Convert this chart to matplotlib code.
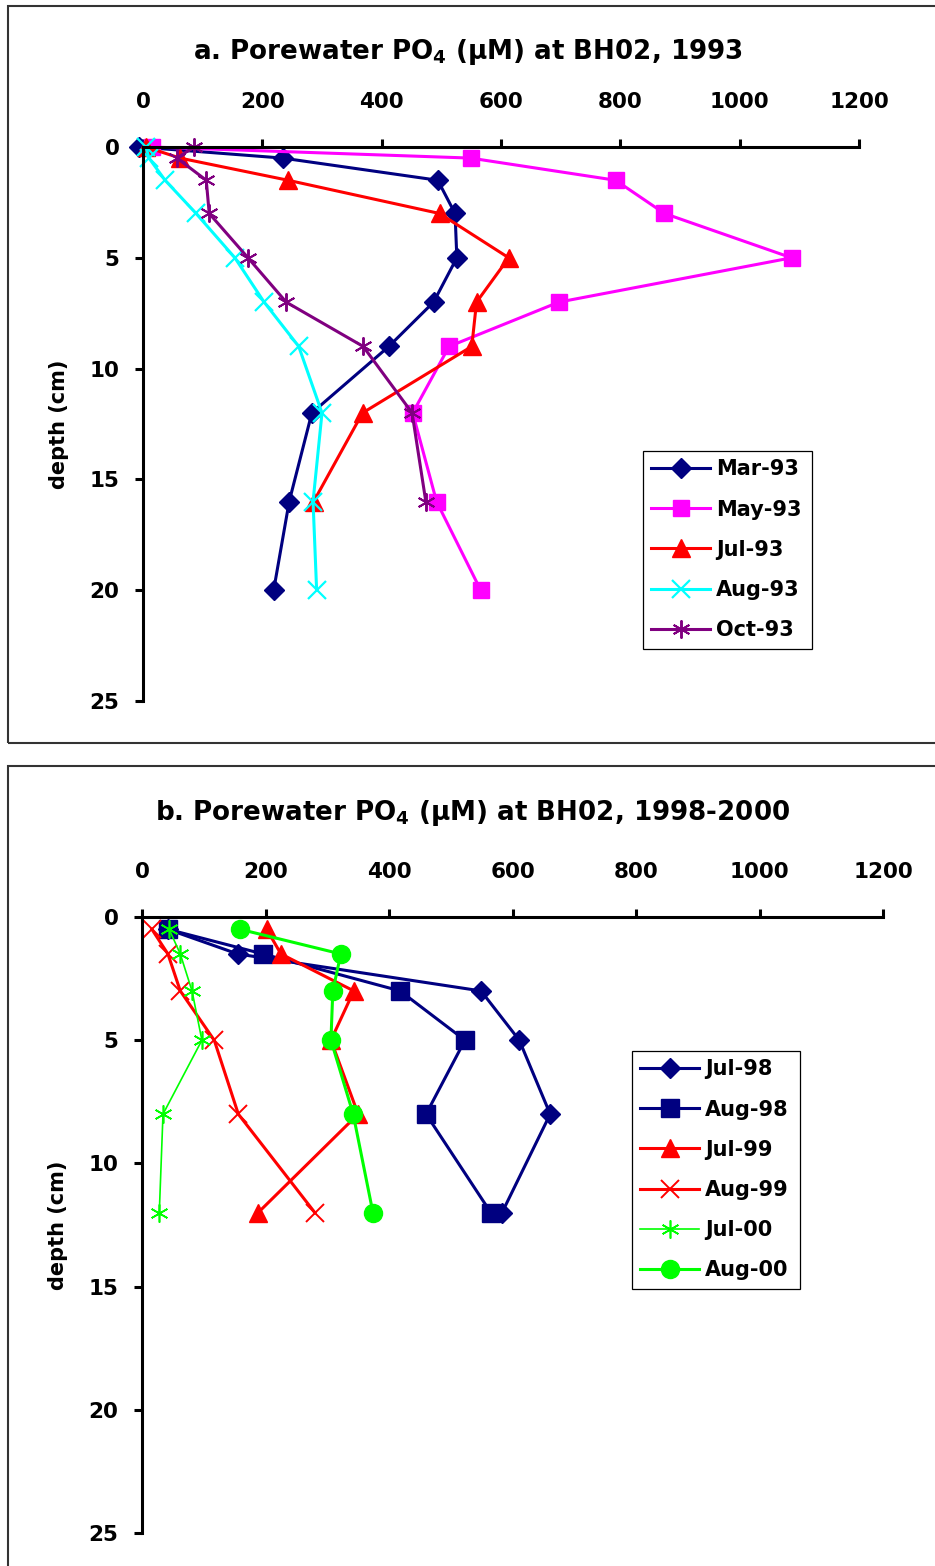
import matplotlib
matplotlib.use('Agg')
import matplotlib.pyplot as plt
from matplotlib.patches import Rectangle

plt.rcParams['font.family'] = ['DejaVu Sans']
plt.rcParams['font.weight'] = 'bold'
plt.rcParams['mathtext.fontset'] = 'custom'
plt.rcParams['mathtext.rm'] = 'DejaVu Sans:bold'
plt.rcParams['mathtext.bf'] = 'DejaVu Sans:bold'
plt.rcParams['mathtext.default'] = 'rm'

# ---- panel a: 1993 ----
depth_a = [0, 0.5, 1.5, 3, 5, 7, 9, 12, 16, 20]
mar93 = [-6, 234, 494, 523, 526, 487, 412, 283, 245, 219]
may93 = [15, 549, 792, 874, 1087, 697, 513, 452, 492, 566]
jul93 = [5, 62, 243, 497, 613, 559, 551, 368, 286]
aug93 = [5, 10, 37, 89, 154, 203, 261, 300, 285, 291]
oct93 = [85, 57, 106, 111, 176, 240, 369, 451, 474]
labels_a = ['Mar-93', 'May-93', 'Jul-93', 'Aug-93', 'Oct-93']

# ---- panel b: 1998-2000 ----
depth_b = [0.5, 1.5, 3, 5, 8, 12]
jul98 = [42, 155, 549, 611, 661, 583]
aug98 = [42, 196, 418, 523, 460, 565]
jul99 = [202, 225, 343, 306, 350, 188]
aug99 = [16, 42, 62, 117, 156, 280]
jul00 = [44, 62, 81, 97, 34, 28]
aug00 = [159, 322, 309, 306, 342, 374]
labels_b = ['Jul-98', 'Aug-98', 'Jul-99', 'Aug-99', 'Jul-00', 'Aug-00']

xticks = [0, 200, 400, 600, 800, 1000, 1200]
yticks = [0, 5, 10, 15, 20, 25]

W, H = 935, 1566
fig = plt.figure(figsize=(W / 100, H / 100), dpi=100)

# outer frames
fig.patches.append(Rectangle((8 / W, 1 - 743 / H), 1.0, (743 - 6) / H, transform=fig.transFigure,
                             fill=False, edgecolor='#333333', linewidth=1.5))
fig.patches.append(Rectangle((8 / W, -0.01), 1.0, 1 - 766 / H + 0.01, transform=fig.transFigure,
                             fill=False, edgecolor='#333333', linewidth=1.5))


def style_axes(ax):
    ax.set_xlim(0, 1200)
    ax.set_ylim(25, 0)
    ax.xaxis.tick_top()
    ax.spines['right'].set_visible(False)
    ax.spines['bottom'].set_visible(False)
    ax.spines['top'].set_linewidth(2.2)
    ax.spines['left'].set_linewidth(2.2)
    ax.set_xticks(xticks)
    ax.set_yticks(yticks)
    ax.tick_params(axis='both', direction='out', length=6, width=2.2, labelsize=15.5)
    ax.tick_params(axis='x', pad=19)
    ax.tick_params(axis='y', pad=11)
    for lab in ax.get_xticklabels() + ax.get_yticklabels():
        lab.set_fontweight('bold')
    ax.set_ylabel('depth (cm)', fontsize=15, fontweight='bold', labelpad=15)
    ax.patch.set_visible(False)


def legend(ax, x0, y0, x1, y1):
    lg = ax.legend(loc='upper left', bbox_to_anchor=(x0 / W, 1 - y1 / H, (x1 - x0) / W, (y1 - y0) / H),
                   bbox_transform=fig.transFigure, mode='expand', fancybox=False, framealpha=1,
                   edgecolor='black', fontsize=15, handlelength=2.8, labelspacing=0.97,
                   borderpad=0.4, handletextpad=0.3, borderaxespad=0)
    lg.get_frame().set_linewidth(0.9)
    for t in lg.get_texts():
        t.set_fontweight('bold')


# panel a
ax1 = fig.add_axes([143 / W, 1 - 701 / H, (859 - 143) / W, (701 - 147) / H])
style_axes(ax1)
ax1.plot(mar93, depth_a, color='#000080', marker='D', markersize=10, lw=2.2, label=labels_a[0], clip_on=False)
ax1.plot(may93, depth_a, color='#FF00FF', marker='s', markersize=12, lw=2.2, label=labels_a[1], clip_on=False)
ax1.plot(jul93, depth_a[:9], color='#FF0000', marker='^', markersize=13, lw=2.2, label=labels_a[2], clip_on=False)
ax1.plot(aug93, depth_a, color='#00FFFF', marker='x', markersize=13, mew=1.6, lw=2.2, label=labels_a[3], clip_on=False)
ax1.plot(oct93, depth_a[:9], color='#800080', marker=(6, 2, 0), markersize=13, mew=1.4, lw=2.2, label=labels_a[4], clip_on=False)
legend(ax1, 643, 451, 812, 646)
fig.text(468 / W, 1 - 52 / H, 'a. Porewater PO$_4$ (µM) at BH02, 1993', ha='center', va='center',
         fontsize=18.8, fontweight='bold')

# panel b
ax2 = fig.add_axes([142 / W, 1 - 1533 / H, (883 - 142) / W, (1533 - 917) / H])
style_axes(ax2)
ax2.plot(jul98, depth_b, color='#000080', marker='D', markersize=10, lw=2.2, label=labels_b[0], clip_on=False)
ax2.plot(aug98, depth_b, color='#000080', marker='s', markersize=13, lw=2.2, label=labels_b[1], clip_on=False)
ax2.plot(jul99, depth_b, color='#FF0000', marker='^', markersize=13, lw=2.2, label=labels_b[2], clip_on=False)
ax2.plot(aug99, depth_b, color='#FF0000', marker='x', markersize=13, mew=1.4, lw=2.2, label=labels_b[3], clip_on=False)
ax2.plot(jul00, depth_b, color='#00FF00', marker=(6, 2, 0), markersize=13, mew=1.2, lw=1.2, label=labels_b[4], clip_on=False)
ax2.plot(aug00, depth_b, color='#00FF00', marker='o', markersize=13, lw=2.2, label=labels_b[5], clip_on=False)
legend(ax2, 632, 1051, 800, 1286)
fig.text(473 / W, 1 - 813 / H, 'b. Porewater PO$_4$ (µM) at BH02, 1998-2000', ha='center', va='center',
         fontsize=18.8, fontweight='bold')

fig.savefig('out.png', dpi=100)
